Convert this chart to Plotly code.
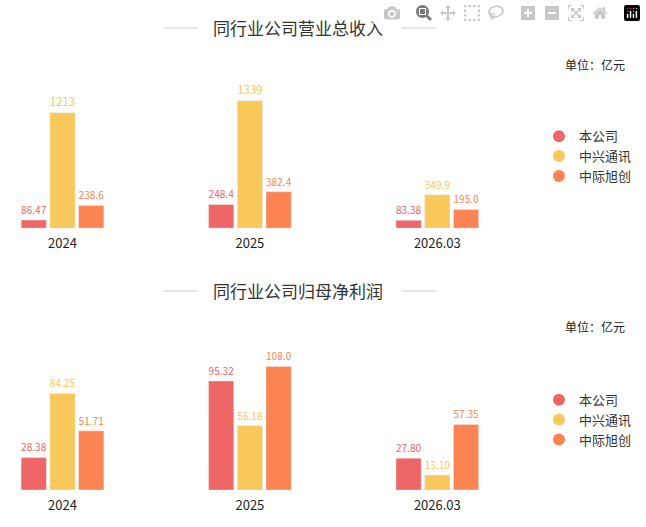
import plotly.graph_objs as go

periods = ["2024", "2025", "2026.03"]
companies = ["本公司", "中兴通讯", "中际旭创"]
colors = ["#EE6666", "#F9C85A", "#FC8452"]

revenue_self = [86.47, 248.4, 83.38]
revenue_zte = [1213, 1339, 349.9]
revenue_zj = [238.6, 382.4, 195.0]
revenue_text = [["86.47", "248.4", "83.38"], ["1213", "1339", "349.9"], ["238.6", "382.4", "195.0"]]

profit_self = [28.38, 95.32, 27.80]
profit_zte = [84.25, 56.18, 13.10]
profit_zj = [51.71, 108.0, 57.35]
profit_text = [["28.38", "95.32", "27.80"], ["84.25", "56.18", "13.10"], ["51.71", "108.0", "57.35"]]

font = "Noto Sans CJK SC"
data = []
for i, vals in enumerate([revenue_self, revenue_zte, revenue_zj]):
    data.append(go.Bar(x=periods, y=vals, name=companies[i], marker_color=colors[i],
                       text=revenue_text[i], textposition="outside", cliponaxis=False,
                       textfont=dict(color=colors[i], size=12.5), xaxis="x", yaxis="y",
                       showlegend=False))
    data.append(go.Scatter(x=[None], y=[None], mode="markers", name=companies[i],
                           marker=dict(color=colors[i], size=12), xaxis="x", yaxis="y",
                           legend="legend"))  # circle legend marker
for i, vals in enumerate([profit_self, profit_zte, profit_zj]):
    data.append(go.Bar(x=periods, y=vals, name=companies[i], marker_color=colors[i],
                       text=profit_text[i], textposition="outside", cliponaxis=False,
                       textfont=dict(color=colors[i], size=12.5), xaxis="x2", yaxis="y2",
                       showlegend=False))
    data.append(go.Scatter(x=[None], y=[None], mode="markers", name=companies[i],
                           marker=dict(color=colors[i], size=12), xaxis="x2", yaxis="y2",
                           legend="legend2"))

axis_x = dict(type="category", range=[-0.28, 3.06], showgrid=False, showline=False,
              ticks="", ticklabelstandoff=6, tickfont=dict(size=13, color="#222"))
axis_y = dict(showgrid=False, showticklabels=False, zeroline=False)
legend_style = dict(x=0.845, xanchor="left", yanchor="top", font=dict(size=13, color="#333"),
                    itemwidth=30, tracegroupgap=4, bgcolor="rgba(0,0,0,0)")

layout = dict(
    width=646, height=527, barmode="group", bargap=0.54, bargroupgap=0.12,
    paper_bgcolor="white", plot_bgcolor="white",
    margin=dict(l=10, r=10, t=0, b=0), font=dict(family=font),
    xaxis=dict(axis_x, anchor="y"), yaxis=dict(axis_y, domain=[0.567, 0.82], range=[0, 1400]),
    xaxis2=dict(axis_x, anchor="y2"), yaxis2=dict(axis_y, domain=[0.07, 0.32], range=[0, 115]),
    legend=dict(legend_style, y=0.77), legend2=dict(legend_style, y=0.27),
)
layout["annotations"] = [
    dict(text="同行业公司营业总收入", x=0.46, y=1 - 27 / 527, xref="paper", yref="paper",
         yanchor="middle", showarrow=False, font=dict(size=17, color="#333")),
    dict(text="同行业公司归母净利润", x=0.46, y=1 - 290 / 527, xref="paper", yref="paper",
         yanchor="middle", showarrow=False, font=dict(size=17, color="#333")),
    dict(text="单位：亿元", x=0.985, y=1 - 64 / 527, xref="paper", yref="paper", xanchor="right",
         yanchor="middle", showarrow=False, font=dict(size=12, color="#222")),
    dict(text="单位：亿元", x=0.985, y=1 - 326 / 527, xref="paper", yref="paper", xanchor="right",
         yanchor="middle", showarrow=False, font=dict(size=12, color="#222")),
]
layout["shapes"] = [
    dict(type="line", xref="paper", yref="paper", x0=x0, x1=x1, y0=yy, y1=yy,
         line=dict(color="#ccc", width=1))
    for yy in [1 - 28 / 527, 1 - 291 / 527]
    for x0, x1 in [(0.245, 0.3), (0.625, 0.68)]
]

fig = go.Figure(data=data, layout=layout)
fig.write_html("out.html", post_script="document.body.style.margin='0';")
